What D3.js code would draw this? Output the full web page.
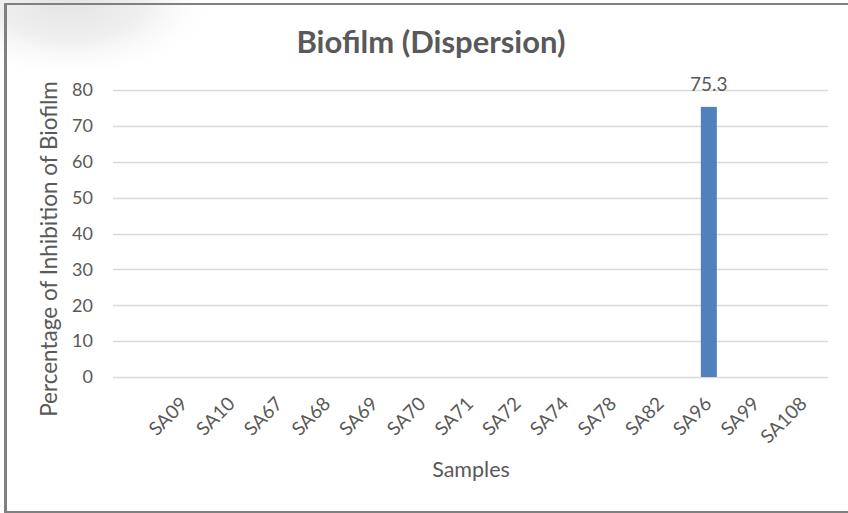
<!DOCTYPE html>
<html>
<head>
<meta charset="utf-8">
<script src="https://cdn.jsdelivr.net/npm/d3@7"></script>
<style>
  html, body { margin: 0; padding: 0; background: #fff; }
  svg { display: block; }
  text { font-family: Lato, "Open Sans", sans-serif; fill: #595959; }
</style>
</head>
<body>
<script>
// ---- data ----
const categories = ["", "SA09", "SA10", "SA67", "SA68", "SA69", "SA70", "SA71", "SA72", "SA74", "SA78", "SA82", "SA96", "SA99", "SA108"];
const values = [null, 0, 0, 0, 0, 0, 0, 0, 0, 0, 0, 0, 75.3, 0, 0];
const yTicks = [0, 10, 20, 30, 40, 50, 60, 70, 80];
const chartTitle = "Biofilm (Dispersion)";
const xTitle = "Samples";
const yTitle = "Percentage of Inhibition of Biofilm";

const W = 848, H = 513;
const svg = d3.select("body").append("svg").attr("width", W).attr("height", H);

// soft shadow at top-left
const defs = svg.append("defs");
const rg = defs.append("radialGradient").attr("id", "shade")
  .attr("cx", "0.5").attr("cy", "0.5").attr("r", "0.5");
rg.append("stop").attr("offset", "0").attr("stop-color", "#e4e4e4");
rg.append("stop").attr("offset", "0.5").attr("stop-color", "#efefef");
rg.append("stop").attr("offset", "1").attr("stop-color", "#ffffff").attr("stop-opacity", 0);
svg.append("ellipse").attr("cx", 70).attr("cy", 0).attr("rx", 150).attr("ry", 80)
  .attr("fill", "url(#shade)");

// frame
svg.append("rect").attr("x", 4).attr("y", 3).attr("width", W - 4).attr("height", 2).attr("fill", "#808080");
svg.append("rect").attr("x", 4).attr("y", 3).attr("width", 3).attr("height", H - 3).attr("fill", "#808080");
svg.append("rect").attr("x", 4).attr("y", 511).attr("width", W - 4).attr("height", 2).attr("fill", "#808080");

// scales
const x = d3.scaleBand().domain(categories).range([113, 828]).paddingInner(0.664).paddingOuter(0.332);
const y = d3.scaleLinear().domain([0, 80]).range([377, 90]);

// gridlines
svg.append("g").selectAll("line").data(yTicks).join("line")
  .attr("x1", 113).attr("x2", 828)
  .attr("y1", d => Math.round(y(d)) + 0.5).attr("y2", d => Math.round(y(d)) + 0.5)
  .attr("stroke", "#d9d9d9").attr("stroke-width", 1.5);

// y axis labels
const yAxis = d3.axisLeft(y).tickValues(yTicks).tickSize(0).tickPadding(0);
const gy = svg.append("g").attr("transform", "translate(93,0)").call(yAxis);
gy.select(".domain").remove();
gy.selectAll("text").attr("font-size", 18).attr("fill", "#595959")
  .style("font-family", "Lato, 'Open Sans', sans-serif");

// bars
const data = categories.map((c, i) => ({ c, v: values[i] }));
svg.append("g").selectAll("rect").data(data.filter(d => d.v)).join("rect")
  .attr("x", d => x(d.c)).attr("width", x.bandwidth())
  .attr("y", d => y(d.v)).attr("height", d => y(0) - y(d.v))
  .attr("fill", "#4f81bd");

// value labels
svg.append("g").selectAll("text").data(data.filter(d => d.v)).join("text")
  .attr("x", d => x(d.c) + x.bandwidth() / 2).attr("y", d => y(d.v) - 16)
  .attr("text-anchor", "middle").attr("font-size", 19).text(d => d.v);

// x axis labels
const xAxis = d3.axisBottom(x).tickSize(0).tickPadding(0);
const gx = svg.append("g").attr("transform", "translate(0,377)").call(xAxis);
gx.select(".domain").remove();
gx.selectAll(".tick text")
  .attr("font-size", 19).attr("fill", "#595959")
  .style("font-family", "Lato, 'Open Sans', sans-serif")
  .attr("text-anchor", "end").attr("dy", 0).attr("y", 0)
  .attr("transform", "translate(4,28) rotate(-45)");

// titles
svg.append("text").attr("x", 431).attr("y", 53).attr("text-anchor", "middle")
  .attr("font-size", 31).attr("font-weight", "bold").text(chartTitle);
svg.append("text").attr("x", 471).attr("y", 477).attr("text-anchor", "middle")
  .attr("font-size", 21.5).text(xTitle);
svg.append("text").attr("transform", "translate(57,249) rotate(-90)")
  .attr("text-anchor", "middle").attr("font-size", 22.5).text(yTitle);
</script>
</body>
</html>
